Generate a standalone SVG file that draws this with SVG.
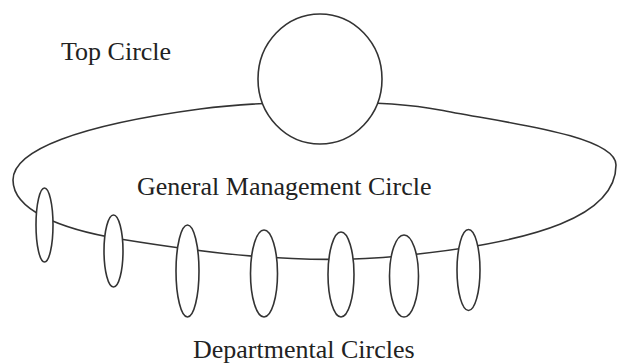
<svg xmlns="http://www.w3.org/2000/svg" width="618" height="364" viewBox="0 0 618 364">
<style>
.ln{fill:none;stroke:#333;stroke-width:1.6}
.nd{fill:#fff;stroke:#333;stroke-width:1.6}
.tx{font-family:"Liberation Serif","Times New Roman",serif;font-size:26px;fill:#222}
</style>
<rect width="618" height="364" fill="#fff"/>
<g id="general-management-circle">
<path class="ln" d="M 13 180 C 13 150 80 125 200 109 C 260 101 380 98 440 110 C 500 122 616 135 616 165 C 616 215 540 242 400 256 C 300 266 200 252 120 239 C 60 229 13 210 13 180 Z"/>
</g>
<g id="top-circle">
<ellipse class="nd" cx="320" cy="79" rx="62" ry="65"/>
</g>
<g id="departmental-circles">
<g id="dept-1"><ellipse class="nd" cx="44.5" cy="225" rx="8.5" ry="37"/></g>
<g id="dept-2"><ellipse class="nd" cx="113.5" cy="251" rx="9.5" ry="36"/></g>
<g id="dept-3"><ellipse class="nd" cx="187.5" cy="271" rx="11.5" ry="46"/></g>
<g id="dept-4"><ellipse class="nd" cx="264" cy="273.5" rx="13.5" ry="43.5"/></g>
<g id="dept-5"><ellipse class="nd" cx="341" cy="274.5" rx="13" ry="42.5"/></g>
<g id="dept-6"><ellipse class="nd" cx="404" cy="276" rx="14.5" ry="41"/></g>
<g id="dept-7"><ellipse class="nd" cx="468.5" cy="270" rx="11.5" ry="40.5"/></g>
</g>
<g id="labels">
<text class="tx" x="61" y="60">Top Circle</text>
<text class="tx" x="137" y="195">General Management Circle</text>
<text class="tx" x="193" y="358">Departmental Circles</text>
</g>
</svg>
